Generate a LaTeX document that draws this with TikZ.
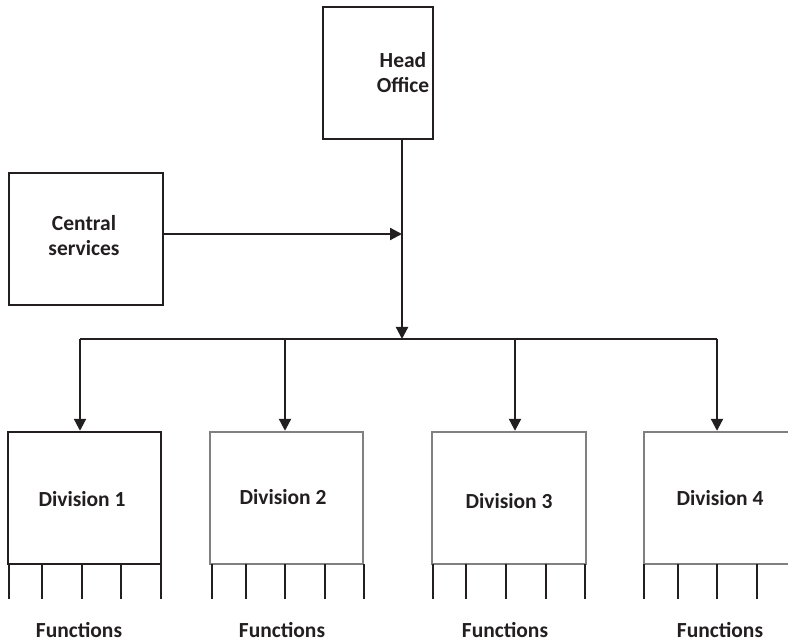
\documentclass[tikz,border=0pt]{standalone}
\usepackage{fontspec}
\setmainfont{Carlito}
\usetikzlibrary{arrows.meta}
\definecolor{ink}{HTML}{231F20}
\definecolor{greyline}{HTML}{808080}
\begin{document}
\begin{tikzpicture}[x=1pt,y=-1pt,
  box/.style={draw=ink,line width=2.4pt,rectangle,inner sep=0pt},
  greybox/.style={box,draw=greyline},
  lbl/.style={text=ink,font=\fontsize{21.5}{25}\selectfont\bfseries,align=center,inner sep=0pt},
  conn/.style={draw=ink,line width=2.2pt},
  arr/.style={conn,-{Triangle[length=12pt,width=12pt]}},
  tick/.style={draw=ink,line width=2.2pt}]
\useasboundingbox (0,0) rectangle (788,644);

% top level
\node[box,minimum width=110pt,minimum height=132pt] (ho) at (378,73) {};
\node[lbl] (hot) at (403,73) {Head\\Office};
\node[box,minimum width=154pt,minimum height=132pt] (cs) at (86,239) {};
\node[lbl] (cst) at (84,236) {Central\\services};

% divisions
\node[box,minimum width=153pt,minimum height=132pt] (d1) at (84.5,498) {};
\node[greybox,minimum width=153pt,minimum height=132pt] (d2) at (286.5,498) {};
\node[greybox,minimum width=154pt,minimum height=132pt] (d3) at (509,498) {};
\node[greybox,minimum width=146pt,minimum height=132pt] (d4) at (717,498) {};
\node[lbl] (d1t) at (82,499) {Division 1};
\node[lbl] (d2t) at (283,497) {Division 2};
\node[lbl] (d3t) at (509,501) {Division 3};
\node[lbl] (d4t) at (720,498) {Division 4};

% function labels
\node[lbl] (f1) at (79,630) {Functions};
\node[lbl] (f2) at (282,630) {Functions};
\node[lbl] (f3) at (505,630) {Functions};
\node[lbl] (f4) at (720,630) {Functions};

% junctions on the main line and the distribution bus
\coordinate (top) at (402,139);
\coordinate (join) at (402,234);
\coordinate (hub) at (402,339);
\coordinate (b1) at (80,339);
\coordinate (b2) at (285,339);
\coordinate (b3) at (515,339);
\coordinate (b4) at (717,339);

\draw[arr] (ho.south -| top) -- (hub);
\draw[arr] (cs.east |- join) -- (join);
\draw[conn] (b1) -- (b4);
\draw[arr] (b1) -- (b1 |- d1.north);
\draw[arr] (b2) -- (b2 |- d2.north);
\draw[arr] (b3) -- (b3 |- d3.north);
\draw[arr] (b4) -- (b4 |- d4.north);

% function ticks under each division
\foreach \x in {9,42,82,121,161}
  \draw[tick] (\x,564) -- (\x,599);
\foreach \x in {212,246,285,325,364}
  \draw[tick] (\x,564) -- (\x,599);
\foreach \x in {433,466,506,546,585}
  \draw[tick] (\x,564) -- (\x,599);
\foreach \x in {644,678,717,757}
  \draw[tick] (\x,564) -- (\x,599);
\end{tikzpicture}
\end{document}
